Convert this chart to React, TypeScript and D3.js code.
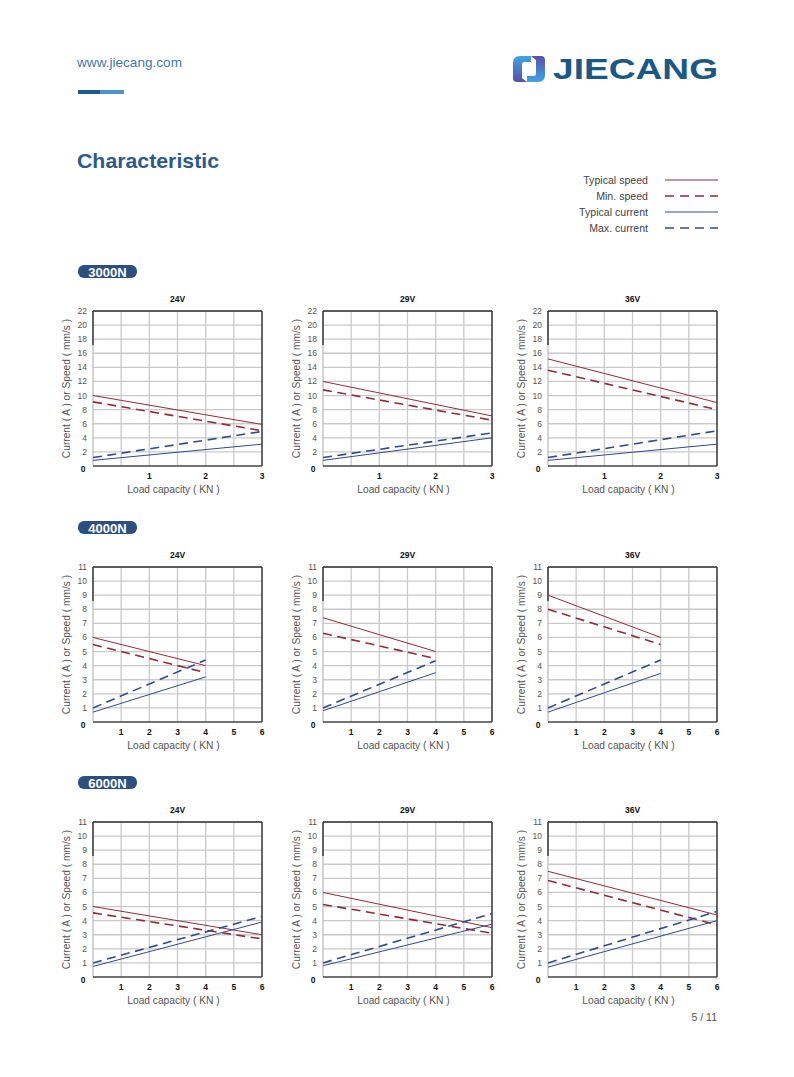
import React from "react";
import * as d3 from "d3";

// ---------- data ----------
const voltages = ["24V", "29V", "36V"];
const sections = ["3000N", "4000N", "6000N"];

const legendLabels = ["Typical speed", "Min. speed", "Typical current", "Max. current"];

// 3000N (load 0..3 kN)
const load3000 = [0, 3];
const typSpeed3000 = [[10.0, 5.9], [12.0, 7.1], [15.2, 9.0]];
const minSpeed3000 = [[9.1, 5.0], [10.8, 6.5], [13.6, 8.0]];
const typCurrent3000 = [[0.8, 3.1], [0.8, 4.0], [0.8, 3.1]];
const maxCurrent3000 = [[1.2, 4.9], [1.2, 4.7], [1.2, 5.0]];

// 4000N (load 0..4 kN)
const load4000 = [0, 4];
const typSpeed4000 = [[6.0, 4.0], [7.4, 5.0], [9.0, 6.0]];
const minSpeed4000 = [[5.5, 3.5], [6.3, 4.5], [8.0, 5.5]];
const typCurrent4000 = [[0.7, 3.2], [0.8, 3.5], [0.7, 3.45]];
const maxCurrent4000 = [[1.0, 4.4], [1.0, 4.35], [1.0, 4.4]];

// 6000N (load 0..6 kN)
const load6000 = [0, 6];
const typSpeed6000 = [[5.0, 3.0], [6.0, 3.5], [7.5, 4.4]];
const minSpeed6000 = [[4.55, 2.7], [5.15, 3.1], [6.85, 3.7]];
const typCurrent6000 = [[0.75, 3.9], [0.8, 3.75], [0.7, 4.0]];
const maxCurrent6000 = [[1.0, 4.3], [1.0, 4.5], [1.0, 4.65]];

const xTicks3000 = [1, 2, 3];
const xTicks6 = [1, 2, 3, 4, 5, 6];
const yTicks22 = [2, 4, 6, 8, 10, 12, 14, 16, 18, 20, 22];
const yTicks11 = [1, 2, 3, 4, 5, 6, 7, 8, 9, 10, 11];

// ---------- style ----------
const FONT = "'Liberation Sans', Arial, Helvetica, sans-serif";
const RED = "#922b38";
const BLUE = "#2f4a8e";
const DASH = "9,5.5";

const colX = [93, 323, 548];
const rowY = [311, 567, 822];
const PW = 169;
const PH = 155;

type Cfg = {
  xMax: number;
  xGrid: number[];
  xTicks: number[];
  yMax: number;
  yTicks: number[];
  loads: number[];
  series: { vals: number[]; color: string; dashed: boolean }[];
};

function Chart({ x0, y0, title, cfg }: { x0: number; y0: number; title: string; cfg: Cfg }) {
  const x = d3.scaleLinear().domain([0, cfg.xMax]).range([x0, x0 + PW]);
  const y = d3.scaleLinear().domain([0, cfg.yMax]).range([y0 + PH, y0]);
  const line = d3
    .line<[number, number]>()
    .x((d) => x(d[0]))
    .y((d) => y(d[1]));
  return (
    <g>
      <text x={x0 + PW / 2} y={y0 - 9} textAnchor="middle" fontFamily={FONT} fontWeight="bold" fontSize={8.5} fill="#111">
        {title}
      </text>
      {/* grid */}
      {cfg.xGrid.map((g) => (
        <line key={"vx" + g} x1={x(g)} x2={x(g)} y1={y0} y2={y0 + PH} stroke="#c9c9c9" strokeWidth={1.3} />
      ))}
      {cfg.yTicks.map((t) => (
        <line key={"hy" + t} x1={x0} x2={x0 + PW} y1={y(t)} y2={y(t)} stroke="#c9c9c9" strokeWidth={1.3} />
      ))}
      {/* frame */}
      <line x1={x0} x2={x0} y1={y0} y2={y0 + PH} stroke="#bdbdbd" strokeWidth={1.3} />
      <line x1={x0} x2={x0} y1={y0} y2={y0 + PH * 0.22} stroke="#222" strokeWidth={1.3} />
      <line x1={x0} x2={x0 + PW} y1={y0} y2={y0} stroke="#333" strokeWidth={1.5} />
      <line x1={x0 + PW} x2={x0 + PW} y1={y0} y2={y0 + PH} stroke="#333" strokeWidth={1.5} />
      <line x1={x0} x2={x0 + PW} y1={y0 + PH} y2={y0 + PH} stroke="#444" strokeWidth={1.3} />
      {/* series */}
      {cfg.series.map((s, i) => (
        <path
          key={"s" + i}
          d={line(cfg.loads.map((l, j) => [l, s.vals[j]] as [number, number])) || ""}
          fill="none"
          stroke={s.color}
          strokeWidth={s.dashed ? 1.6 : 1}
          strokeDasharray={s.dashed ? DASH : undefined}
        />
      ))}
      {/* y ticks */}
      {cfg.yTicks.map((t) => (
        <text key={"yt" + t} x={x0 - 6} y={y(t) + 3} textAnchor="end" fontFamily={FONT} fontSize={8.5} fill="#555">
          {t}
        </text>
      ))}
      <text x={x0 - 10} y={y(0) + 6} textAnchor="middle" fontFamily={FONT} fontSize={8.5} fontWeight="bold" fill="#111">
        0
      </text>
      {/* x ticks */}
      {cfg.xTicks.map((t) => (
        <text key={"xt" + t} x={x(t)} y={y0 + PH + 13} textAnchor="middle" fontFamily={FONT} fontSize={8.5} fontWeight="bold" fill="#111">
          {t}
        </text>
      ))}
      <text x={x0 + PW / 2 - 4} y={y0 + PH + 27} textAnchor="middle" fontFamily={FONT} fontSize={10.2} fill="#555">
        Load capacity ( KN )
      </text>
      <text
        transform={`translate(${x0 - 23},${y0 + PH / 2}) rotate(-90)`}
        textAnchor="middle"
        fontFamily={FONT}
        fontSize={10.2}
        fill="#555"
      >
        Current ( A ) or Speed ( mm/s )
      </text>
    </g>
  );
}

function buildSeries(a: number[][], b: number[][], c: number[][], d: number[][], i: number) {
  return [
    { vals: a[i], color: RED, dashed: false },
    { vals: b[i], color: RED, dashed: true },
    { vals: c[i], color: BLUE, dashed: false },
    { vals: d[i], color: BLUE, dashed: true },
  ];
}

export default function App() {
  const grid3000 = d3.range(0.5, 3, 0.5);
  const grid6 = d3.range(1, 6, 1);
  const cfgs: Cfg[][] = [
    voltages.map((_, i) => ({
      xMax: 3,
      xGrid: grid3000,
      xTicks: xTicks3000,
      yMax: 22,
      yTicks: yTicks22,
      loads: load3000,
      series: buildSeries(typSpeed3000, minSpeed3000, typCurrent3000, maxCurrent3000, i),
    })),
    voltages.map((_, i) => ({
      xMax: 6,
      xGrid: grid6,
      xTicks: xTicks6,
      yMax: 11,
      yTicks: yTicks11,
      loads: load4000,
      series: buildSeries(typSpeed4000, minSpeed4000, typCurrent4000, maxCurrent4000, i),
    })),
    voltages.map((_, i) => ({
      xMax: 6,
      xGrid: grid6,
      xTicks: xTicks6,
      yMax: 11,
      yTicks: yTicks11,
      loads: load6000,
      series: buildSeries(typSpeed6000, minSpeed6000, typCurrent6000, maxCurrent6000, i),
    })),
  ];
  const legendStyles = [
    { color: RED, dashed: false },
    { color: RED, dashed: true },
    { color: BLUE, dashed: false },
    { color: BLUE, dashed: true },
  ];
  return (
    <svg width={794} height={1077} style={{ position: "absolute", left: 0, top: 0, background: "#fff" }}>
      <defs>
        <linearGradient id="lg1" x1="0" y1="0" x2="0" y2="1">
          <stop offset="0" stopColor="#3fa4e6" />
          <stop offset="1" stopColor="#5b4fa8" />
        </linearGradient>
        <linearGradient id="lg2" x1="0" y1="0" x2="0" y2="1">
          <stop offset="0" stopColor="#5b4fa8" />
          <stop offset="1" stopColor="#3fa4e6" />
        </linearGradient>
      </defs>
      {/* header */}
      <text x={77} y={67} fontFamily={FONT} fontSize={13} fill="#4477ad" textLength={105} lengthAdjust="spacingAndGlyphs">
        www.jiecang.com
      </text>
      <rect x={78} y={90} width={22} height={4} fill="#1d5a8f" />
      <rect x={100} y={90} width={24} height={4} fill="#4c93d3" />
      {/* logo */}
      <path d="M520,56 L531,56 L531,62 L524,62 Q522,62 522,64 L522,78 L527,82 L517,82 Q513,82 513,78 L513,63 Q513,56 520,56 Z" fill="url(#lg1)" />
      <path d="M538,82 L527,82 L527,76 L534,76 Q536,76 536,74 L536,60 L531,56 L541,56 Q545,56 545,60 L545,75 Q545,82 538,82 Z" fill="url(#lg2)" />
      <text x={553} y={79} fontFamily={FONT} fontSize={30} fontWeight="bold" fill="#1a5888" textLength={165} lengthAdjust="spacingAndGlyphs">
        JIECANG
      </text>
      <text x={77} y={168} fontFamily={FONT} fontSize={21} fontWeight="bold" fill="#2d5a8c" textLength={142} lengthAdjust="spacingAndGlyphs">
        Characteristic
      </text>
      {/* legend */}
      {legendLabels.map((l, i) => (
        <g key={l}>
          <text x={648} y={184 + i * 16} textAnchor="end" fontFamily={FONT} fontSize={10.6} fill="#444">
            {l}
          </text>
          <line
            x1={665}
            x2={718}
            y1={180 + i * 16}
            y2={180 + i * 16}
            stroke={legendStyles[i].color}
            strokeWidth={legendStyles[i].dashed ? 1.6 : 1}
            strokeDasharray={legendStyles[i].dashed ? "9,6" : undefined}
          />
        </g>
      ))}
      {/* sections */}
      {sections.map((s, r) => (
        <g key={s}>
          <rect x={78} y={rowY[r] - 46} width={59} height={13} rx={6} fill="#2c4f7f" />
          <text x={107.5} y={rowY[r] - 34.5} textAnchor="middle" fontFamily={FONT} fontSize={13} fontWeight="bold" fill="#fff">
            {s}
          </text>
          {voltages.map((v, c) => (
            <Chart key={v} x0={colX[c]} y0={rowY[r]} title={v} cfg={cfgs[r][c]} />
          ))}
        </g>
      ))}
      <text x={717} y={1021} textAnchor="end" fontFamily={FONT} fontSize={10.5} fill="#555">
        5 / 11
      </text>
    </svg>
  );
}
